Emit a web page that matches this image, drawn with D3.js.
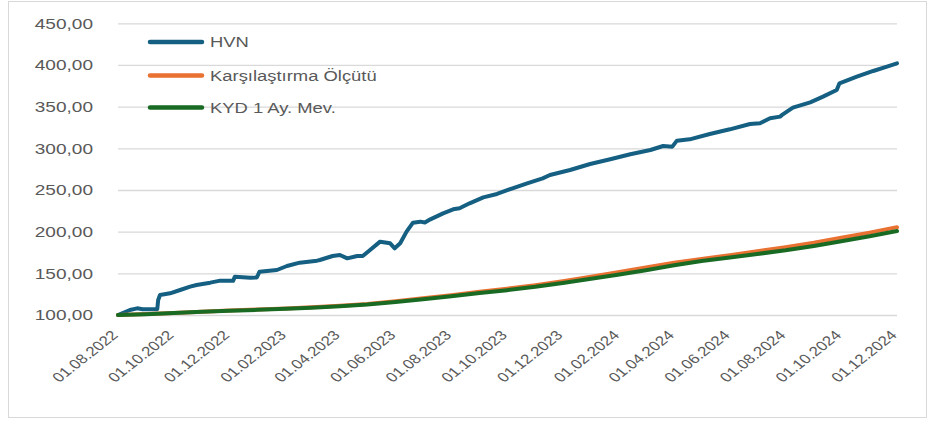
<html lang="tr">
<head>
  <meta charset="UTF-8"/>
  <title>HVN vs Karşılaştırma Ölçütü</title>
  <script src="https://d3js.org/d3.v7.min.js"></script>
  <style>
    body { margin: 0; background: #fff; }
    svg { display: block; }
    text { font-family: 'Liberation Sans', Arial, sans-serif; fill: #595959; }
    .grid line { stroke: #d9d9d9; stroke-width: 1.3; }
    .grid path { display: none; }
  </style>
</head>
<body>
  <svg width="928" height="421"></svg>

  <script>
  // HVN fund
  const hvnDates = [
    '01.08.2022', '14.08.2022', '22.08.2022', '28.08.2022', '08.09.2022', '13.09.2022',
    '14.09.2022', '16.09.2022', '27.09.2022', '08.10.2022', '19.10.2022', '26.10.2022',
    '10.11.2022', '21.11.2022', '05.12.2022', '07.12.2022', '24.12.2022', '31.12.2022',
    '03.01.2023', '22.01.2023', '02.02.2023', '16.02.2023', '07.03.2023', '10.03.2023',
    '24.03.2023', '01.04.2023', '09.04.2023', '20.04.2023', '26.04.2023', '04.05.2023',
    '15.05.2023', '26.05.2023', '31.05.2023', '06.06.2023', '13.06.2023', '20.06.2023',
    '28.06.2023', '03.07.2023', '09.07.2023', '23.07.2023', '03.08.2023', '10.08.2023',
    '21.08.2023', '05.09.2023', '20.09.2023', '07.10.2023', '23.10.2023', '09.11.2023',
    '17.11.2023', '09.12.2023', '31.12.2023', '22.01.2024', '13.02.2024', '06.03.2024',
    '20.03.2024', '30.03.2024', '04.04.2024', '18.04.2024', '10.05.2024', '01.06.2024',
    '23.06.2024', '04.07.2024', '15.07.2024', '26.07.2024', '29.07.2024', '09.08.2024',
    '28.08.2024', '11.09.2024', '26.09.2024', '29.09.2024', '18.10.2024', '05.11.2024',
    '20.11.2024', '01.12.2024'
  ];
  const hvnValues = [
    100, 106, 108, 106.8, 106.8, 107,
    118, 124, 126, 130, 134, 136,
    138.8, 141.2, 141, 146, 144.8, 145,
    152, 154, 158.8, 162.8, 165.2, 166,
    170.8, 172, 168, 170.8, 170.8, 178,
    188, 186, 180, 186, 200, 210.8,
    212, 211, 214.8, 222, 226.8, 228,
    234, 241.2, 245.2, 252, 258, 264,
    268, 274, 281.2, 286.8, 292.8, 298,
    302.8, 302, 309.2, 310.8, 317.2, 322.8,
    329.2, 330, 336, 338, 340.8, 348.8,
    355.2, 362, 370, 378, 386, 392.8,
    398, 402
  ];

  // benchmark and deposit series, first day of each month
  const monthDates = [
    '01.08.2022', '01.09.2022', '01.10.2022', '01.11.2022', '01.12.2022',
    '01.01.2023', '01.02.2023', '01.03.2023', '01.04.2023', '01.05.2023', '01.06.2023',
    '01.07.2023', '01.08.2023', '01.09.2023', '01.10.2023', '01.11.2023', '01.12.2023',
    '01.01.2024', '01.02.2024', '01.03.2024', '01.04.2024', '01.05.2024', '01.06.2024',
    '01.07.2024', '01.08.2024', '01.09.2024', '01.10.2024', '01.11.2024', '01.12.2024'
  ];
  const benchValues = [
    100, 101.2, 102.5, 104, 105.3,
    106.6, 107.9, 109.3, 111.2, 113.3, 116.4,
    120, 123.7, 127.8, 131.5, 135.7, 140.5,
    146, 151.5, 157, 162.8, 167.3, 171.8,
    176.5, 181.2, 186.6, 192.6, 198.8, 205.4
  ];
  const kydValues = [
    100, 101, 102.3, 103.8, 105,
    106.2, 107.4, 108.7, 110.5, 112.5, 115.5,
    119, 122.5, 126.3, 129.8, 133.8, 138.5,
    143.5, 148.5, 153.8, 159.6, 164.7, 169,
    173.2, 177.6, 182.8, 188.5, 194.5, 200.8
  ];

  const tickLabels = [
    '01.08.2022', '01.10.2022', '01.12.2022', '01.02.2023', '01.04.2023',
    '01.06.2023', '01.08.2023', '01.10.2023', '01.12.2023', '01.02.2024',
    '01.04.2024', '01.06.2024', '01.08.2024', '01.10.2024', '01.12.2024'
  ];
  const yTicks = [100, 150, 200, 250, 300, 350, 400, 450];

  const seriesNames = ['HVN', 'Karşılaştırma Ölçütü', 'KYD 1 Ay. Mev.'];
  const seriesColors = ['#156082', '#e97132', '#196b24'];

  const parse = d3.timeParse('%d.%m.%Y');
  const fmt = d3.formatLocale({ decimal: ',', thousands: '.', grouping: [3], currency: ['', ''] }).format('.2f');

  const svg = d3.select('svg');
  const sx = 1.27; // the source picture is stretched horizontally

  // chart border
  svg.append('rect')
    .attr('x', 8.5).attr('y', 1.5)
    .attr('width', 918).attr('height', 416)
    .attr('fill', 'none')
    .attr('stroke', '#d9d9d9');

  const plotLeft = 118, plotRight = 897, plotTop = 23.3, plotBottom = 315;

  const xScale = d3.scaleTime()
    .domain([parse(tickLabels[0]), parse(tickLabels[tickLabels.length - 1])])
    .range([plotLeft, plotRight]);

  const yScale = d3.scaleLinear()
    .domain([100, 450])
    .range([plotBottom, plotTop]);

  // horizontal grid lines
  svg.append('g')
    .attr('class', 'grid')
    .attr('transform', `translate(${plotLeft}, 0)`)
    .call(d3.axisLeft(yScale)
      .tickValues(yTicks)
      .tickSize(-(plotRight - plotLeft))
      .tickFormat('')
    );

  // y labels
  svg.append('g')
    .selectAll('text')
    .data(yTicks)
    .enter()
    .append('text')
    .attr('transform', (d) => `translate(93, ${yScale(d)}) scale(${sx}, 1)`)
    .attr('dy', '0.36em')
    .attr('text-anchor', 'end')
    .style('font-size', '15px')
    .text((d) => fmt(d));

  // x labels
  svg.append('g')
    .selectAll('text')
    .data(tickLabels)
    .enter()
    .append('text')
    .attr('transform', (d) => `translate(${xScale(parse(d)) + 1}, 336) scale(${sx}, 1) rotate(-45)`)
    .attr('text-anchor', 'end')
    .style('font-size', '13.3px')
    .text((d) => d);

  const line = d3.line()
    .x((d) => xScale(d[0]))
    .y((d) => yScale(d[1]));

  const series = [
    hvnDates.map((d, i) => [parse(d), hvnValues[i]]),
    monthDates.map((d, i) => [parse(d), benchValues[i]]),
    monthDates.map((d, i) => [parse(d), kydValues[i]])
  ];

  series.forEach((s, i) => {
    svg.append('path')
      .datum(s)
      .attr('fill', 'none')
      .attr('stroke', seriesColors[i])
      .attr('stroke-width', 4)
      .attr('stroke-linejoin', 'round')
      .attr('stroke-linecap', 'round')
      .attr('d', line);
  });

  // legend
  const legendY = [42, 75.5, 107.5];
  const legend = svg.append('g');

  seriesNames.forEach((name, i) => {
    legend.append('line')
      .attr('x1', 150).attr('x2', 202)
      .attr('y1', legendY[i]).attr('y2', legendY[i])
      .attr('stroke', seriesColors[i])
      .attr('stroke-width', 4.5)
      .attr('stroke-linecap', 'round');

    legend.append('text')
      .attr('transform', `translate(210, ${legendY[i]}) scale(${sx}, 1)`)
      .attr('dy', '0.36em')
      .style('font-size', '14.5px')
      .text(name);
  });
  </script>
</body>
</html>
